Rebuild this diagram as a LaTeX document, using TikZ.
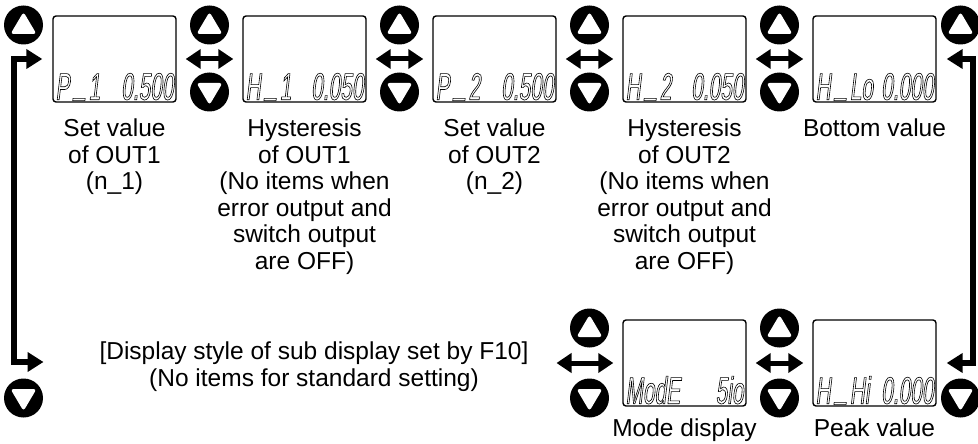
\documentclass[tikz,border=0pt]{standalone}
\usepackage{fontspec}
\setmainfont{Liberation Sans}
\newfontfamily\lcdfont[FakeStretch=0.55,FakeSlant=0.12]{Liberation Sans}
\usetikzlibrary{positioning, arrows.meta}
% hollow segment look for the display digits
\newcommand\lcdtext[1]{\special{pdf:literal direct 1 Tr 0.6 w}#1\special{pdf:literal direct 0 Tr}}
\newcommand\lcdbar{\kern4.5pt\raisebox{0.17em}{\_}\kern3pt}

\begin{document}
\begin{tikzpicture}[x=1pt, y=-1pt,
    lcd/.style={draw, line width=1.4pt, rounded corners=3pt, minimum width=123pt,
                minimum height=86pt, inner sep=0pt},
    seg/.style={inner sep=0pt, font=\lcdfont\fontsize{38}{38}\selectfont},
    btn/.style={circle, fill=black, minimum size=39pt, inner sep=0pt},
    upbtn/.style={btn, path picture={\fill[white, rounded corners=3pt]
        ([shift={(0pt,13pt)}]path picture bounding box.center)
        -- ([shift={(-13pt,-9pt)}]path picture bounding box.center)
        -- ([shift={(13pt,-9pt)}]path picture bounding box.center) -- cycle;}},
    downbtn/.style={btn, path picture={\fill[white, rounded corners=3pt]
        ([shift={(0pt,-13pt)}]path picture bounding box.center)
        -- ([shift={(-13pt,9pt)}]path picture bounding box.center)
        -- ([shift={(13pt,9pt)}]path picture bounding box.center) -- cycle;}},
    swap/.style={{Triangle[length=15pt,width=19pt]}-{Triangle[length=15pt,width=19pt]},
                 line width=5pt, shorten <=9pt, shorten >=9pt},
    wrap/.style={{Triangle[length=16pt,width=19pt]}-{Triangle[length=16pt,width=19pt]},
                 line width=6pt},
    caption/.style={align=center, inner sep=0pt, anchor=north,
                    font=\fontsize{24.5}{26.5}\selectfont}]
    \useasboundingbox (0,0) rectangle (978,444);

    % displays
    \node[lcd] (p1) at (114.5,59) {};
    \node[lcd] (h1) at (304.5,59) {};
    \node[lcd] (p2) at (494.5,59) {};
    \node[lcd] (h2) at (684.5,59) {};
    \node[lcd] (lo) at (874.5,59) {};
    \node[lcd] (mode) at (684.5,363) {};
    \node[lcd] (peak) at (874.5,363) {};

    \node[seg, anchor=base west] (p1a) at ([shift={(3pt,3pt)}]p1.south west) {\lcdtext{P\lcdbar 1}};
    \node[seg, anchor=base east] (p1b) at ([shift={(-3pt,3pt)}]p1.south east) {\lcdtext{0.500}};
    \node[seg, anchor=base west] (h1a) at ([shift={(3pt,3pt)}]h1.south west) {\lcdtext{H\lcdbar 1}};
    \node[seg, anchor=base east] (h1b) at ([shift={(-3pt,3pt)}]h1.south east) {\lcdtext{0.050}};
    \node[seg, anchor=base west] (p2a) at ([shift={(3pt,3pt)}]p2.south west) {\lcdtext{P\lcdbar 2}};
    \node[seg, anchor=base east] (p2b) at ([shift={(-3pt,3pt)}]p2.south east) {\lcdtext{0.500}};
    \node[seg, anchor=base west] (h2a) at ([shift={(3pt,3pt)}]h2.south west) {\lcdtext{H\lcdbar 2}};
    \node[seg, anchor=base east] (h2b) at ([shift={(-3pt,3pt)}]h2.south east) {\lcdtext{0.050}};
    \node[seg, anchor=base west] (loa) at ([shift={(3pt,3pt)}]lo.south west) {\lcdtext{H\lcdbar Lo}};
    \node[seg, anchor=base east] (lob) at ([shift={(-3pt,3pt)}]lo.south east) {\lcdtext{0.000}};
    \node[seg, anchor=base west] (modea) at ([shift={(3pt,3pt)}]mode.south west) {\lcdtext{ModE}};
    \node[seg, anchor=base east] (modeb) at ([shift={(-3pt,3pt)}]mode.south east) {\lcdtext{5io}};
    \node[seg, anchor=base west] (peaka) at ([shift={(3pt,3pt)}]peak.south west) {\lcdtext{H\lcdbar Hi}};
    \node[seg, anchor=base east] (peakb) at ([shift={(-3pt,3pt)}]peak.south east) {\lcdtext{0.000}};

    % keys
    \node[upbtn] (up0) at (23.5,25) {};
    \node[upbtn] (up1) at (209.5,25) {};
    \node[downbtn] (dn1) at (209.5,92) {};
    \node[upbtn] (up2) at (399.5,25) {};
    \node[downbtn] (dn2) at (399.5,92) {};
    \node[upbtn] (up3) at (589.5,25) {};
    \node[downbtn] (dn3) at (589.5,92) {};
    \node[upbtn] (up4) at (779.5,25) {};
    \node[downbtn] (dn4) at (779.5,92) {};
    \node[upbtn] (up5) at (960.5,25) {};
    \node[downbtn] (dn0) at (23.5,398) {};
    \node[upbtn] (up6) at (589.5,328) {};
    \node[downbtn] (dn6) at (589.5,398) {};
    \node[upbtn] (up7) at (779.5,328) {};
    \node[downbtn] (dn7) at (779.5,398) {};
    \node[downbtn] (dn8) at (960.5,398) {};

    % captions
    \node[caption] (c1) at (114.5,119) {Set value\\of OUT1\\(n\_1)};
    \node[caption] (c2) at (304.5,119) {Hysteresis\\of OUT1\\(No items when\\error output and\\switch output\\are OFF)};
    \node[caption] (c3) at (494.5,119) {Set value\\of OUT2\\(n\_2)};
    \node[caption] (c4) at (684.5,119) {Hysteresis\\of OUT2\\(No items when\\error output and\\switch output\\are OFF)};
    \node[caption] (c5) at (874.5,119) {Bottom value};
    \node[caption] (c6) at (314,342) {[Display style of sub display set by F10]\\(No items for standard setting)};
    \node[caption] (c7) at (684.5,419) {Mode display};
    \node[caption] (c8) at (874.5,419) {Peak value};

    % moves
    \draw[swap] (p1) -- (h1);
    \draw[swap] (h1) -- (p2);
    \draw[swap] (p2) -- (h2);
    \draw[swap] (h2) -- (lo);
    \coordinate (modein) at (547.5,363);
    \draw[swap] (modein) -- (mode);
    \draw[swap] (mode) -- (peak);

    \coordinate (wl1) at ([xshift=-10pt]p1.west);
    \coordinate (wl2) at (43.5,362);
    \coordinate (wlc) at (14,200);
    \draw[wrap] (wl1) -| (wlc) |- (wl2);
    \coordinate (wr1) at ([xshift=10pt]lo.east);
    \coordinate (wr2) at ([xshift=10pt]peak.east);
    \coordinate (wrc) at (973,200);
    \draw[wrap] (wr1) -| (wrc) |- (wr2);
\end{tikzpicture}
\end{document}
